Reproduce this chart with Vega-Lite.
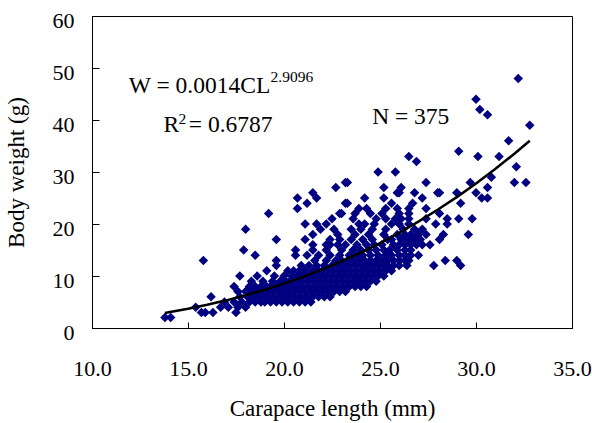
{
  "$schema": "https://vega.github.io/schema/vega-lite/v6.json",
  "width": 480,
  "height": 312,
  "autosize": {"type": "none"},
  "padding": {"left": 92, "top": 16, "right": 20, "bottom": 95},
  "background": "white",
  "config": {
    "view": {"stroke": "black", "strokeWidth": 1},
    "font": "Liberation Serif",
    "axis": {
      "grid": false,
      "domainColor": "black",
      "tickColor": "black",
      "labelColor": "black",
      "titleColor": "black",
      "labelFont": "Liberation Serif",
      "titleFont": "Liberation Serif",
      "titleFontWeight": "normal",
      "labelFontSize": 22,
      "titleFontSize": 23
    }
  },
  "datasets": {
    "pts": [
      {"cl": 13.8, "w": 2}, {"cl": 14.1, "w": 2},
      {"cl": 15.7, "w": 3}, {"cl": 15.9, "w": 3}, {"cl": 16.3, "w": 3}, {"cl": 17.5, "w": 3},
      {"cl": 15.4, "w": 4}, {"cl": 16.7, "w": 4}, {"cl": 17.1, "w": 4}, {"cl": 17.6, "w": 4}, {"cl": 18.0, "w": 4},
      {"cl": 16.9, "w": 5}, {"cl": 17.4, "w": 5}, {"cl": 17.8, "w": 5}, {"cl": 18.2, "w": 5}, {"cl": 18.5, "w": 5}, {"cl": 18.8, "w": 5}, {"cl": 19.0, "w": 5}, {"cl": 19.3, "w": 5}, {"cl": 19.6, "w": 5}, {"cl": 19.9, "w": 5}, {"cl": 20.2, "w": 5}, {"cl": 20.5, "w": 5}, {"cl": 20.8, "w": 5}, {"cl": 21.1, "w": 5}, {"cl": 21.4, "w": 5},
      {"cl": 16.2, "w": 6}, {"cl": 17.7, "w": 6}, {"cl": 18.1, "w": 6}, {"cl": 18.4, "w": 6}, {"cl": 18.7, "w": 6}, {"cl": 19.0, "w": 6}, {"cl": 19.2, "w": 6}, {"cl": 19.5, "w": 6}, {"cl": 19.8, "w": 6}, {"cl": 20.0, "w": 6}, {"cl": 20.3, "w": 6}, {"cl": 20.6, "w": 6}, {"cl": 20.9, "w": 6}, {"cl": 21.2, "w": 6}, {"cl": 21.5, "w": 6}, {"cl": 21.8, "w": 6}, {"cl": 22.1, "w": 6}, {"cl": 22.4, "w": 6},
      {"cl": 17.6, "w": 7}, {"cl": 18.0, "w": 7}, {"cl": 18.3, "w": 7}, {"cl": 18.6, "w": 7}, {"cl": 18.9, "w": 7}, {"cl": 19.1, "w": 7}, {"cl": 19.4, "w": 7}, {"cl": 19.7, "w": 7}, {"cl": 20.0, "w": 7}, {"cl": 20.2, "w": 7}, {"cl": 20.5, "w": 7}, {"cl": 20.8, "w": 7}, {"cl": 21.1, "w": 7}, {"cl": 21.4, "w": 7}, {"cl": 21.7, "w": 7}, {"cl": 22.0, "w": 7}, {"cl": 22.3, "w": 7}, {"cl": 22.6, "w": 7}, {"cl": 22.9, "w": 7}, {"cl": 23.2, "w": 7},
      {"cl": 17.4, "w": 8}, {"cl": 18.2, "w": 8}, {"cl": 18.5, "w": 8}, {"cl": 18.8, "w": 8}, {"cl": 19.1, "w": 8}, {"cl": 19.3, "w": 8}, {"cl": 19.6, "w": 8}, {"cl": 19.9, "w": 8}, {"cl": 20.1, "w": 8}, {"cl": 20.4, "w": 8}, {"cl": 20.7, "w": 8}, {"cl": 21.0, "w": 8}, {"cl": 21.3, "w": 8}, {"cl": 21.6, "w": 8}, {"cl": 21.9, "w": 8}, {"cl": 22.2, "w": 8}, {"cl": 22.5, "w": 8}, {"cl": 22.8, "w": 8}, {"cl": 23.1, "w": 8}, {"cl": 23.4, "w": 8}, {"cl": 23.7, "w": 8}, {"cl": 24.0, "w": 8}, {"cl": 24.3, "w": 8},
      {"cl": 18.3, "w": 9}, {"cl": 18.9, "w": 9}, {"cl": 19.4, "w": 9}, {"cl": 19.8, "w": 9}, {"cl": 20.1, "w": 9}, {"cl": 20.3, "w": 9}, {"cl": 20.6, "w": 9}, {"cl": 20.9, "w": 9}, {"cl": 21.2, "w": 9}, {"cl": 21.5, "w": 9}, {"cl": 21.8, "w": 9}, {"cl": 22.1, "w": 9}, {"cl": 22.4, "w": 9}, {"cl": 22.7, "w": 9}, {"cl": 23.0, "w": 9}, {"cl": 23.3, "w": 9}, {"cl": 23.6, "w": 9}, {"cl": 23.9, "w": 9}, {"cl": 24.2, "w": 9}, {"cl": 24.5, "w": 9}, {"cl": 24.8, "w": 9},
      {"cl": 17.7, "w": 10}, {"cl": 18.6, "w": 10}, {"cl": 19.5, "w": 10}, {"cl": 20.0, "w": 10}, {"cl": 20.4, "w": 10}, {"cl": 20.7, "w": 10}, {"cl": 21.0, "w": 10}, {"cl": 21.3, "w": 10}, {"cl": 21.6, "w": 10}, {"cl": 21.9, "w": 10}, {"cl": 22.2, "w": 10}, {"cl": 22.5, "w": 10}, {"cl": 22.8, "w": 10}, {"cl": 23.1, "w": 10}, {"cl": 23.4, "w": 10}, {"cl": 23.7, "w": 10}, {"cl": 24.0, "w": 10}, {"cl": 24.3, "w": 10}, {"cl": 24.6, "w": 10}, {"cl": 24.9, "w": 10}, {"cl": 25.2, "w": 10},
      {"cl": 19.1, "w": 11}, {"cl": 20.2, "w": 11}, {"cl": 20.5, "w": 11}, {"cl": 20.8, "w": 11}, {"cl": 21.1, "w": 11}, {"cl": 21.5, "w": 11}, {"cl": 21.8, "w": 11}, {"cl": 22.0, "w": 11}, {"cl": 22.3, "w": 11}, {"cl": 22.6, "w": 11}, {"cl": 22.9, "w": 11}, {"cl": 23.2, "w": 11}, {"cl": 23.5, "w": 11}, {"cl": 23.8, "w": 11}, {"cl": 24.1, "w": 11}, {"cl": 24.4, "w": 11}, {"cl": 24.7, "w": 11}, {"cl": 25.0, "w": 11}, {"cl": 25.3, "w": 11}, {"cl": 25.6, "w": 11},
      {"cl": 19.6, "w": 12}, {"cl": 20.9, "w": 12}, {"cl": 21.3, "w": 12}, {"cl": 21.7, "w": 12}, {"cl": 22.1, "w": 12}, {"cl": 22.5, "w": 12}, {"cl": 22.8, "w": 12}, {"cl": 23.1, "w": 12}, {"cl": 23.4, "w": 12}, {"cl": 23.7, "w": 12}, {"cl": 24.0, "w": 12}, {"cl": 24.3, "w": 12}, {"cl": 24.6, "w": 12}, {"cl": 24.9, "w": 12}, {"cl": 25.2, "w": 12}, {"cl": 25.4, "w": 12}, {"cl": 25.7, "w": 12}, {"cl": 26.0, "w": 12}, {"cl": 26.4, "w": 12}, {"cl": 27.8, "w": 12}, {"cl": 29.2, "w": 12},
      {"cl": 15.8, "w": 13}, {"cl": 19.6, "w": 13}, {"cl": 21.6, "w": 13}, {"cl": 22.2, "w": 13}, {"cl": 22.7, "w": 13}, {"cl": 23.0, "w": 13}, {"cl": 23.3, "w": 13}, {"cl": 23.6, "w": 13}, {"cl": 23.9, "w": 13}, {"cl": 24.2, "w": 13}, {"cl": 24.5, "w": 13}, {"cl": 24.8, "w": 13}, {"cl": 25.1, "w": 13}, {"cl": 25.4, "w": 13}, {"cl": 25.7, "w": 13}, {"cl": 26.0, "w": 13}, {"cl": 26.3, "w": 13}, {"cl": 26.5, "w": 13}, {"cl": 28.4, "w": 13}, {"cl": 29.0, "w": 13},
      {"cl": 18.5, "w": 14}, {"cl": 20.6, "w": 14}, {"cl": 21.2, "w": 14}, {"cl": 21.8, "w": 14}, {"cl": 22.4, "w": 14}, {"cl": 22.9, "w": 14}, {"cl": 23.4, "w": 14}, {"cl": 23.8, "w": 14}, {"cl": 24.1, "w": 14}, {"cl": 24.5, "w": 14}, {"cl": 24.9, "w": 14}, {"cl": 25.3, "w": 14}, {"cl": 25.6, "w": 14}, {"cl": 26.0, "w": 14}, {"cl": 26.3, "w": 14}, {"cl": 26.6, "w": 14}, {"cl": 27.0, "w": 14},
      {"cl": 17.9, "w": 15}, {"cl": 20.6, "w": 15}, {"cl": 21.5, "w": 15}, {"cl": 22.2, "w": 15}, {"cl": 23.0, "w": 15}, {"cl": 23.6, "w": 15}, {"cl": 24.0, "w": 15}, {"cl": 24.4, "w": 15}, {"cl": 24.8, "w": 15}, {"cl": 25.2, "w": 15}, {"cl": 25.5, "w": 15}, {"cl": 25.9, "w": 15}, {"cl": 26.3, "w": 15}, {"cl": 26.6, "w": 15},
      {"cl": 21.5, "w": 16}, {"cl": 22.2, "w": 16}, {"cl": 22.4, "w": 16}, {"cl": 22.8, "w": 16}, {"cl": 23.2, "w": 16}, {"cl": 23.8, "w": 16}, {"cl": 24.3, "w": 16}, {"cl": 24.7, "w": 16}, {"cl": 25.1, "w": 16}, {"cl": 25.7, "w": 16}, {"cl": 26.0, "w": 16}, {"cl": 26.3, "w": 16}, {"cl": 26.6, "w": 16}, {"cl": 26.9, "w": 16}, {"cl": 27.2, "w": 16}, {"cl": 27.6, "w": 16},
      {"cl": 19.6, "w": 17}, {"cl": 21.1, "w": 17}, {"cl": 22.4, "w": 17}, {"cl": 22.9, "w": 17}, {"cl": 23.5, "w": 17}, {"cl": 24.1, "w": 17}, {"cl": 24.6, "w": 17}, {"cl": 25.4, "w": 17}, {"cl": 25.6, "w": 17}, {"cl": 26.1, "w": 17}, {"cl": 26.5, "w": 17}, {"cl": 26.8, "w": 17}, {"cl": 27.1, "w": 17}, {"cl": 28.1, "w": 17},
      {"cl": 21.5, "w": 18}, {"cl": 22.8, "w": 18}, {"cl": 23.7, "w": 18}, {"cl": 24.4, "w": 18}, {"cl": 25.2, "w": 18}, {"cl": 25.9, "w": 18}, {"cl": 26.3, "w": 18}, {"cl": 26.6, "w": 18}, {"cl": 27.0, "w": 18}, {"cl": 27.4, "w": 18}, {"cl": 28.3, "w": 18}, {"cl": 29.6, "w": 18},
      {"cl": 18.0, "w": 19}, {"cl": 21.9, "w": 19}, {"cl": 22.6, "w": 19}, {"cl": 23.5, "w": 19}, {"cl": 24.0, "w": 19}, {"cl": 24.6, "w": 19}, {"cl": 25.3, "w": 19}, {"cl": 26.2, "w": 19}, {"cl": 26.8, "w": 19}, {"cl": 27.2, "w": 19},
      {"cl": 21.1, "w": 20}, {"cl": 21.7, "w": 20}, {"cl": 22.2, "w": 20}, {"cl": 23.9, "w": 20}, {"cl": 24.2, "w": 20}, {"cl": 24.7, "w": 20}, {"cl": 25.6, "w": 20}, {"cl": 26.0, "w": 20}, {"cl": 26.5, "w": 20}, {"cl": 27.9, "w": 20}, {"cl": 28.5, "w": 20},
      {"cl": 22.5, "w": 21}, {"cl": 23.6, "w": 21}, {"cl": 24.8, "w": 21}, {"cl": 25.3, "w": 21}, {"cl": 25.8, "w": 21}, {"cl": 26.1, "w": 21}, {"cl": 26.5, "w": 21}, {"cl": 27.4, "w": 21}, {"cl": 28.5, "w": 21}, {"cl": 29.1, "w": 21}, {"cl": 29.8, "w": 21},
      {"cl": 19.2, "w": 22}, {"cl": 22.9, "w": 22}, {"cl": 23.0, "w": 22}, {"cl": 23.7, "w": 22}, {"cl": 24.5, "w": 22}, {"cl": 25.1, "w": 22}, {"cl": 26.0, "w": 22}, {"cl": 26.5, "w": 22}, {"cl": 28.1, "w": 22},
      {"cl": 20.7, "w": 23}, {"cl": 23.9, "w": 23}, {"cl": 24.3, "w": 23}, {"cl": 25.3, "w": 23}, {"cl": 25.9, "w": 23}, {"cl": 26.5, "w": 23}, {"cl": 27.4, "w": 23},
      {"cl": 21.2, "w": 24}, {"cl": 23.2, "w": 24}, {"cl": 23.3, "w": 24}, {"cl": 25.6, "w": 24}, {"cl": 26.7, "w": 24}, {"cl": 29.2, "w": 24},
      {"cl": 20.7, "w": 25}, {"cl": 21.7, "w": 25}, {"cl": 24.2, "w": 25}, {"cl": 25.2, "w": 25}, {"cl": 27.2, "w": 25}, {"cl": 30.3, "w": 25}, {"cl": 30.6, "w": 25},
      {"cl": 21.5, "w": 26}, {"cl": 25.9, "w": 26}, {"cl": 26.0, "w": 26}, {"cl": 26.8, "w": 26}, {"cl": 28.0, "w": 26}, {"cl": 28.1, "w": 26}, {"cl": 29.0, "w": 26}, {"cl": 30.0, "w": 26},
      {"cl": 22.7, "w": 27}, {"cl": 25.2, "w": 27}, {"cl": 26.1, "w": 27}, {"cl": 30.6, "w": 27},
      {"cl": 23.2, "w": 28}, {"cl": 23.3, "w": 28}, {"cl": 27.4, "w": 28}, {"cl": 29.7, "w": 28}, {"cl": 32.0, "w": 28}, {"cl": 32.6, "w": 28},
      {"cl": 30.8, "w": 29},
      {"cl": 24.9, "w": 30}, {"cl": 25.8, "w": 30},
      {"cl": 32.1, "w": 31},
      {"cl": 26.9, "w": 32},
      {"cl": 26.5, "w": 33}, {"cl": 30.1, "w": 33}, {"cl": 31.2, "w": 33},
      {"cl": 29.1, "w": 34},
      {"cl": 31.7, "w": 36},
      {"cl": 32.8, "w": 39},
      {"cl": 30.6, "w": 41},
      {"cl": 30.2, "w": 42},
      {"cl": 30.0, "w": 44},
      {"cl": 32.2, "w": 48}
    ],
    "fit": [
      {"cl": 13.8, "w": 2.90}, {"cl": 14, "w": 3.03}, {"cl": 15, "w": 3.70}, {"cl": 16, "w": 4.46},
      {"cl": 17, "w": 5.32}, {"cl": 18, "w": 6.29}, {"cl": 19, "w": 7.36}, {"cl": 20, "w": 8.54},
      {"cl": 21, "w": 9.84}, {"cl": 22, "w": 11.27}, {"cl": 23, "w": 12.83}, {"cl": 24, "w": 14.52},
      {"cl": 25, "w": 16.34}, {"cl": 26, "w": 18.32}, {"cl": 27, "w": 20.45}, {"cl": 28, "w": 22.73},
      {"cl": 29, "w": 25.17}, {"cl": 30, "w": 27.78}, {"cl": 31, "w": 30.56}, {"cl": 32, "w": 33.52},
      {"cl": 32.8, "w": 36.02}
    ],
    "txt": [
      {"cl": 11.92, "w": 45.23, "label": "W = 0.0014CL"},
      {"cl": 13.72, "w": 37.73, "label": "R"},
      {"cl": 15.04, "w": 37.73, "label": "= 0.6787"},
      {"cl": 24.59, "w": 39.27, "label": "N = 375"}
    ],
    "sup": [
      {"cl": 19.3, "w": 47.4, "label": "2.9096"},
      {"cl": 14.5, "w": 39.3, "label": "2"}
    ]
  },
  "encoding": {
    "x": {
      "field": "cl",
      "type": "quantitative",
      "scale": {"domain": [10, 35], "nice": false, "zero": false},
      "axis": {
        "title": "Carapace length (mm)",
        "values": [10, 15, 20, 25, 30, 35],
        "format": ".1f",
        "labelFont": "Liberation Serif",
        "titleFont": "Liberation Serif",
        "tickSize": -6,
        "labelPadding": 36,
        "labelFlush": false,
        "labelOverlap": false,
        "labelBound": false,
        "titlePadding": 18
      }
    },
    "y": {
      "field": "w",
      "type": "quantitative",
      "scale": {"domain": [0, 60], "nice": false},
      "axis": {
        "title": "Body weight (g)",
        "values": [0, 10, 20, 30, 40, 50, 60],
        "format": "d",
        "labelFont": "Liberation Serif",
        "titleFont": "Liberation Serif",
        "tickSize": -7,
        "labelPadding": 25,
        "labelOffset": 4,
        "labelFlush": false,
        "labelOverlap": false,
        "labelBound": false,
        "titlePadding": 24
      }
    }
  },
  "layer": [
    {
      "data": {"name": "pts"},
      "mark": {"type": "point", "shape": "diamond", "filled": true, "color": "#000080", "opacity": 1, "size": 90}
    },
    {
      "data": {"name": "fit"},
      "mark": {"type": "line", "color": "black", "strokeWidth": 2.5},
      "encoding": {}
    },
    {
      "data": {"name": "txt"},
      "mark": {"type": "text", "align": "left", "baseline": "alphabetic", "font": "Liberation Serif", "fontSize": 23.5, "color": "black"},
      "encoding": {"text": {"field": "label"}}
    },
    {
      "data": {"name": "sup"},
      "mark": {"type": "text", "align": "left", "baseline": "alphabetic", "font": "Liberation Serif", "fontSize": 15.5, "color": "black"},
      "encoding": {"text": {"field": "label"}}
    }
  ]
}
